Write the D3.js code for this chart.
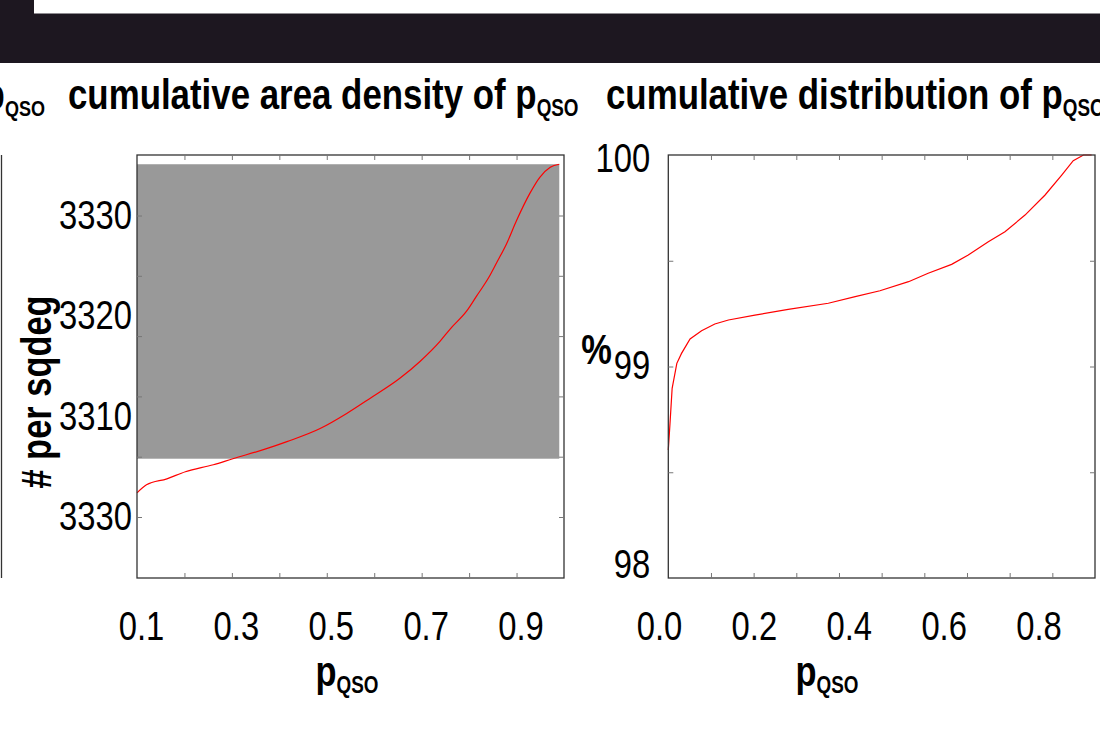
<!DOCTYPE html>
<html>
<head>
<meta charset="utf-8">
<script src="https://cdn.jsdelivr.net/npm/d3@7"></script>
<style>
  body { margin: 0; background: #fff; }
  svg { display: block; }
  text { font-family: "Liberation Sans", Arial, sans-serif; fill: #000; }
</style>
</head>
<body>
<svg id="chart" width="1100" height="731"></svg>
<script>
// ---- cumulative area density of p_QSO (objects per square degree above threshold) ----
const densityP   = [0.100, 0.120, 0.163, 0.202, 0.261, 0.302, 0.373, 0.416, 0.486, 0.542, 0.591, 0.654, 0.697,
                    0.739, 0.760, 0.795, 0.816, 0.841, 0.858, 0.879, 0.900, 0.928, 0.949, 0.971, 0.990];
const densityVal = [3302.4, 3303.2, 3303.8, 3304.5, 3305.2, 3305.8, 3306.8, 3307.5, 3308.8, 3310.3, 3311.8, 3313.8, 3315.5,
                    3317.5, 3318.7, 3320.5, 3322.0, 3323.8, 3325.3, 3327.2, 3329.5, 3332.2, 3333.8, 3334.8, 3335.1];
// shaded band behind the density curve
const densityBandP   = [0.100, 0.990];
const densityBandVal = [3305.8, 3335.1];
const densityXTickMarks = [0.2, 0.3, 0.4, 0.5, 0.6, 0.7, 0.8, 0.9];
const densityXLabels    = [0.1, 0.3, 0.5, 0.7, 0.9];
const densityYTickMarks = [3300, 3306, 3312, 3318, 3324, 3330];
const densityYLabelVals = [3330, 3320, 3310, 3300];
const densityYLabelText = ["3330", "3320", "3310", "3330"];

// ---- cumulative distribution of p_QSO (%) ----
const cdfP   = [0.000, 0.004, 0.009, 0.020, 0.031, 0.051, 0.078, 0.109, 0.141, 0.203, 0.281, 0.375, 0.438,
                0.496, 0.563, 0.609, 0.664, 0.703, 0.750, 0.789, 0.836, 0.883, 0.922, 0.949, 0.973, 0.992];
const cdfPct = [98.605, 98.731, 98.897, 99.015, 99.062, 99.130, 99.169, 99.201, 99.220, 99.243, 99.270, 99.299, 99.330,
                99.358, 99.401, 99.441, 99.483, 99.527, 99.590, 99.637, 99.716, 99.811, 99.905, 99.973, 100.0, 100.0];
const cdfXTickMarks = [0.1, 0.2, 0.3, 0.4, 0.5, 0.6, 0.7, 0.8, 0.9];
const cdfXLabels    = [0.0, 0.2, 0.4, 0.6, 0.8];
const cdfYTickMarks = [98.5, 99, 99.5];
const cdfYLabels    = [100, 99, 98];

const svg = d3.select("#chart");
const frameTop = 155, frameBottom = 578;
const tickFont = 40, labelFont = 42, subFont = 23, titleFont = 42.5, titleSub = 23;
const narrow = 0.82;               // horizontal condensing of all lettering
const frameColor = "#333", tickColor = "#777";

// dark header band
svg.append("rect").attr("x", 0).attr("y", 0).attr("width", 1100).attr("height", 63).attr("fill", "#1d1720");
svg.append("rect").attr("x", 34).attr("y", 0).attr("width", 1066).attr("height", 13.5).attr("fill", "#fff");

// text with a subscript, e.g. p_QSO
function subText(g, x, y, main, sub, size, sSize, anchor, dy) {
  const t = g.append("text").attr("x", x).attr("y", y)
    .attr("text-anchor", anchor).attr("font-weight", "bold").attr("font-size", size);
  t.append("tspan").text(main);
  t.append("tspan").attr("font-size", sSize).attr("dy", dy).text(sub);
  return t;
}

// remains of the neighbouring panel on the left
svg.append("line").attr("x1", 1.5).attr("x2", 1.5).attr("y1", frameTop).attr("y2", frameBottom)
  .attr("stroke", frameColor).attr("stroke-width", 1.3);
subText(svg, 45, 109, "p", "QSO", titleFont, titleSub - 1, "end", 7);

// draws inward tick marks on all four sides of a frame
function tickMarks(g, x, y, xt, yt) {
  const [x0, x1] = x.range();
  const mk = (axis, tx, ty) => {
    const a = g.append("g").attr("transform", `translate(${tx},${ty})`).call(axis);
    a.select(".domain").remove();
    a.selectAll("line").attr("stroke", tickColor).attr("stroke-width", 1);
    a.selectAll("text").remove();
  };
  mk(d3.axisBottom(x).tickValues(xt).tickSize(-5), 0, frameBottom);
  mk(d3.axisTop(x).tickValues(xt).tickSize(-5), 0, frameTop);
  mk(d3.axisLeft(y).tickValues(yt).tickSize(-5), x0, 0);
  mk(d3.axisRight(y).tickValues(yt).tickSize(-5), x1, 0);
}

function styleLabels(a) {
  a.select(".domain").remove();
  a.attr("font-size", tickFont).attr("font-family", null);
  a.selectAll("text").attr("fill", "#000");
}

// ================= density panel =================
{
  const g = svg.append("g");
  const x = d3.scaleLinear().domain([0.1, 1.0]).range([137, 564]);
  const y = d3.scaleLinear().domain([3300, 3330]).range([517, 215.5]);

  g.append("rect")
    .attr("x", x(densityBandP[0])).attr("width", x(densityBandP[1]) - x(densityBandP[0]))
    .attr("y", y(densityBandVal[1])).attr("height", y(densityBandVal[0]) - y(densityBandVal[1]))
    .attr("fill", "#999999");

  const line = d3.line().curve(d3.curveMonotoneX).x((d, i) => x(densityP[i])).y(d => y(d));
  g.append("path").datum(densityVal).attr("d", line)
    .attr("fill", "none").attr("stroke", "#ff0000").attr("stroke-width", 1.2);

  g.append("rect").attr("x", 137).attr("y", frameTop).attr("width", 427).attr("height", frameBottom - frameTop)
    .attr("fill", "none").attr("stroke", frameColor).attr("stroke-width", 1.3);
  tickMarks(g, x, y, densityXTickMarks, densityYTickMarks);

  // tick labels
  const xl = g.append("g").attr("transform", `translate(4,${frameBottom})`)
    .call(d3.axisBottom(x).tickValues(densityXLabels).tickSize(0).tickPadding(34).tickFormat(d3.format(".1f")));
  styleLabels(xl);
  const yl = g.append("g").attr("transform", `translate(137,0)`)
    .call(d3.axisLeft(y).tickValues(densityYLabelVals).tickSize(0).tickPadding(5)
      .tickFormat((d, i) => densityYLabelText[i]));
  styleLabels(yl);

  // axis titles
  subText(g, 347, 686, "p", "QSO", labelFont, subFont, "middle", 7);
  g.append("text").attr("transform", "translate(51,392) rotate(-90)")
    .attr("text-anchor", "middle").attr("font-weight", "bold").attr("font-size", labelFont)
    .text("# per sqdeg");
  subText(g, 68, 109, "cumulative area density of p", "QSO", titleFont, titleSub, "start", 7);
}

// ================= cumulative distribution panel =================
{
  const g = svg.append("g");
  const x = d3.scaleLinear().domain([0, 1]).range([668.3, 1095]);
  const y = d3.scaleLinear().domain([98, 100]).range([frameBottom, frameTop]);

  const line = d3.line().x((d, i) => x(cdfP[i])).y(d => y(d));
  g.append("path").datum(cdfPct).attr("d", line)
    .attr("fill", "none").attr("stroke", "#ff0000").attr("stroke-width", 1.2);

  g.append("rect").attr("x", 668.3).attr("y", frameTop).attr("width", 1095 - 668.3).attr("height", frameBottom - frameTop)
    .attr("fill", "none").attr("stroke", frameColor).attr("stroke-width", 1.3);
  tickMarks(g, x, y, cdfXTickMarks, cdfYTickMarks);

  // tick labels keep the spacing of the density panel's labels
  const xLab = d3.scaleLinear().domain([0, 0.9]).range([659, 1086]);
  const xl = g.append("g").attr("transform", `translate(0,${frameBottom})`)
    .call(d3.axisBottom(xLab).tickValues(cdfXLabels).tickSize(0).tickPadding(34).tickFormat(d3.format(".1f")));
  styleLabels(xl);
  const half = 0.358 * tickFont;
  const yl = g.append("g").attr("transform", `translate(668.3,0)`)
    .call(d3.axisLeft(y).tickValues(cdfYLabels).tickSize(0).tickPadding(18).tickFormat(d3.format("d")));
  styleLabels(yl);
  // keep the end labels inside the frame's height
  yl.selectAll(".tick").attr("transform", d =>
    `translate(0,${Math.max(frameTop - 10 + half, Math.min(frameBottom + 2 - half, y(d)))})`);

  subText(g, 827, 686, "p", "QSO", labelFont, subFont, "middle", 7);
  g.append("text").attr("x", 596.5).attr("y", 364).attr("text-anchor", "middle")
    .attr("font-weight", "bold").attr("font-size", labelFont).text("%");
  subText(g, 606, 109, "cumulative distribution of p", "QSO", titleFont, titleSub, "start", 7);
}

// condense every text horizontally about its own anchor point
svg.selectAll("text").each(function () {
  const t = d3.select(this);
  const ax = +t.attr("x") || 0, ay = +t.attr("y") || 0;
  const tr = t.attr("transform") || "";
  t.attr("transform", `${tr} translate(${ax},${ay}) scale(${narrow},1) translate(${-ax},${-ay})`);
});
</script>
</body>
</html>
